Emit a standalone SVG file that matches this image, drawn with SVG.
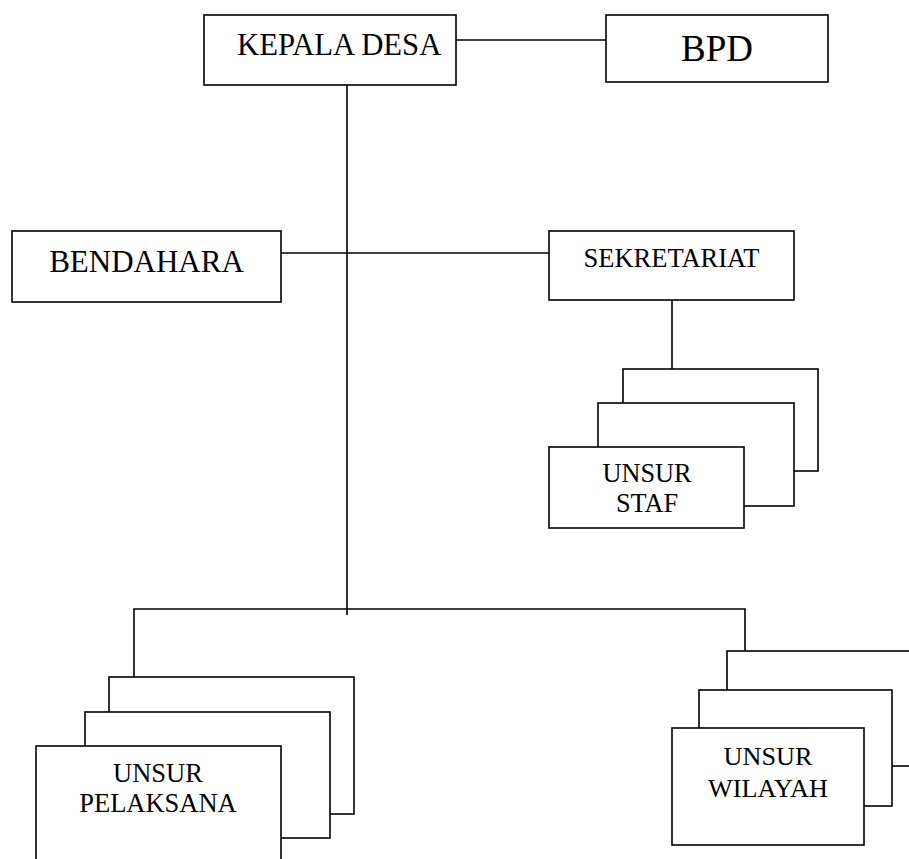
<svg xmlns="http://www.w3.org/2000/svg" width="909" height="859" viewBox="0 0 909 859">
<style>
.box{fill:#fff;stroke:#000;stroke-width:1.6}
.ln{fill:none;stroke:#000;stroke-width:1.6}
text{font-family:"Liberation Serif","Times New Roman",serif;fill:#000}
.c{text-anchor:middle}
</style>
<rect width="909" height="859" fill="#fff"/>
<g id="connectors">
<line class="ln" x1="456" y1="40" x2="606" y2="40"/>
<line class="ln" x1="347" y1="85" x2="347" y2="615"/>
<line class="ln" x1="281" y1="253" x2="549" y2="253"/>
<line class="ln" x1="672" y1="300" x2="672" y2="369"/>
<polyline class="ln" points="134,677 134,609 745,609 745,651"/>
</g>
<g id="kepala-desa">
<rect class="box" x="204" y="15" width="252" height="70"/>
<text x="237" y="55" font-size="30.7">KEPALA DESA</text>
</g>
<g id="bpd">
<rect class="box" x="606" y="15" width="222" height="67"/>
<text class="c" x="717" y="61" font-size="37">BPD</text>
</g>
<g id="bendahara">
<rect class="box" x="12" y="231" width="269" height="71"/>
<text class="c" x="146.5" y="272" font-size="31">BENDAHARA</text>
</g>
<g id="sekretariat">
<rect class="box" x="549" y="231" width="245" height="69"/>
<text class="c" x="671.5" y="267" font-size="26.5">SEKRETARIAT</text>
</g>
<g id="unsur-staf">
<rect class="box" x="623" y="369" width="195" height="102"/>
<rect class="box" x="598" y="403" width="196" height="103"/>
<rect class="box" x="549" y="447" width="195" height="81"/>
<text class="c" x="647" y="482" font-size="26.3">UNSUR</text>
<text class="c" x="647" y="512" font-size="26.3">STAF</text>
</g>
<g id="unsur-pelaksana">
<rect class="box" x="109" y="677" width="245" height="137"/>
<rect class="box" x="85" y="712" width="245" height="126"/>
<rect class="box" x="36" y="746" width="245" height="130"/>
<text class="c" x="158" y="782" font-size="26.5">UNSUR</text>
<text class="c" x="158" y="812" font-size="26.5">PELAKSANA</text>
</g>
<g id="unsur-wilayah">
<rect class="box" x="727" y="651" width="200" height="115"/>
<rect class="box" x="699" y="690" width="193" height="116"/>
<rect class="box" x="672" y="728" width="192" height="117"/>
<text class="c" x="768" y="765" font-size="26.2">UNSUR</text>
<text class="c" x="768" y="797" font-size="26.2">WILAYAH</text>
</g>
</svg>
